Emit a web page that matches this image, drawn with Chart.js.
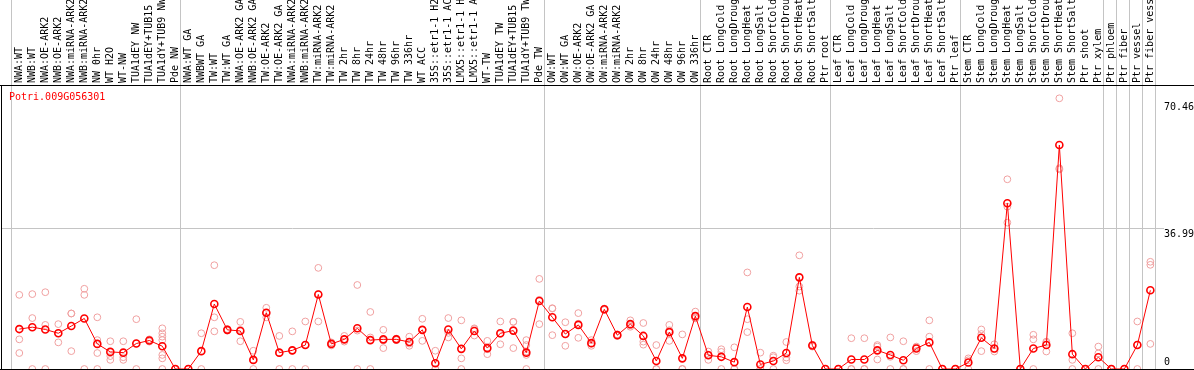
<!DOCTYPE html>
<html><head><meta charset="utf-8">
<script src="https://cdn.jsdelivr.net/npm/chart.js@4/dist/chart.umd.min.js"></script>
<style>html,body{margin:0;padding:0;background:#fff;overflow:hidden}canvas{display:block}</style>
</head><body>
<canvas id="c" width="1194" height="370"></canvas>
<script>
const geneId = 'Potri.009G056301';
const categories = [
  'NWA:WT','NWB:WT','NWA:OE-ARK2','NWB:OE-ARK2','NWA:miRNA-ARK2','NWB:miRNA-ARK2','NW 0hr','WT H2O','WT-NW','TUA1dEY NW',
  'TUA1dEY+TUB15 NW','TUA1dY+TUB9 NW','Pde NW','NWA:WT GA','NWBWT GA','TW:WT','TW:WT GA','NWA:OE-ARK2 GA','NWB:OE-ARK2 GA','TW:OE-ARK2',
  'TW:OE-ARK2 GA','NWA:miRNA-ARK2 GA','NWB:miRNA-ARK2 GA','TW:miRNA-ARK2','TW:miRNA-ARK2 GA','TW 2hr','TW 8hr','TW 24hr','TW 48hr','TW 96hr',
  'TW 336hr','WT ACC','35S::etr1-1 H2O','35S::etr1-1 ACC','LMX5::etr1-1 H2O','LMX5::etr1-1 ACC','WT-TW','TUA1dEY TW','TUA1dEY+TUB15 TW','TUA1dY+TUB9 TW',
  'Pde TW','OW:WT','OW:WT GA','OW:OE-ARK2','OW:OE-ARK2 GA','OW:miRNA-ARK2','OW:miRNA-ARK2 GA','OW 2hr','OW 8hr','OW 24hr',
  'OW 48hr','OW 96hr','OW 336hr','Root CTR','Root LongCold','Root LongDrought','Root LongHeat','Root LongSalt','Root ShortCold','Root ShortDrought',
  'Root ShortHeat','Root ShortSalt','Ptr root','Leaf CTR','Leaf LongCold','Leaf LongDrought','Leaf LongHeat','Leaf LongSalt','Leaf ShortCold','Leaf ShortDrought',
  'Leaf ShortHeat','Leaf ShortSalt','Ptr leaf','Stem CTR','Stem LongCold','Stem LongDrought','Stem LongHeat','Stem LongSalt','Stem ShortCold','Stem ShortDrought',
  'Stem ShortHeat','Stem ShortSalt','Ptr shoot','Ptr xylem','Ptr phloem','Ptr fiber','Ptr vessel','Ptr fiber vessel'
];
const means = [
  10.5, 11.0, 10.4, 9.4, 11.3, 13.3, 6.6, 4.5, 4.3, 6.7,
  7.5, 6.0, 0, 0, 4.7, 17.1, 10.3, 10.0, 2.4, 14.8,
  4.3, 4.9, 6.3, 19.6, 6.6, 7.8, 10.7, 7.6, 7.8, 7.8,
  7.1, 10.3, 1.5, 10.4, 5.3, 10.0, 5.5, 9.4, 10.1, 4.3,
  17.9, 13.6, 9.2, 11.6, 6.8, 15.7, 8.9, 11.8, 8.7, 2.1,
  9.7, 2.8, 13.9, 3.6, 3.2, 1.8, 16.3, 1.2, 2.1, 4.2,
  24.1, 6.2, 0, 0, 2.5, 2.5, 4.9, 3.7, 2.3, 5.4,
  7.0, 0, 0, 1.7, 8.2, 5.4, 43.6, 0, 5.4, 6.3,
  58.9, 3.9, 0, 3.1, 0, 0, 6.3, 20.7
];
const replicates = [
  [19.5, 7.8, 4.2], [19.7, 13.4, 0], [20.2, 11.6, 0], [11.8, 7.0, 9.4], [14.6, 14.6, 4.7],
  [21.1, 19.5, 0], [13.6, 7.6, 4.2, 0], [7.3, 3.4, 2.4], [7.3, 3.1, 2.4], [13.1, 6.7, 0],
  [7.8, 7.5, 7.2], [10.7, 9.4, 8.5, 7.6, 3.7, 2.8, 0], [0, 0, 0], [0, 0, 0], [9.4, 4.7, 0],
  [27.3, 13.6, 9.9], [10.5, 10.3, 10.1], [12.4, 10.3, 7.3], [4.8, 2.4, 0], [16.1, 14.7, 13.6],
  [8.7, 4.2, 0], [9.9, 4.8, 0], [12.5, 6.4, 0], [26.6, 19.7, 12.5], [7.0, 6.6, 6.2],
  [8.7, 7.8, 7.2], [22.1, 10.1, 0], [15.0, 8.3, 0], [10.3, 7.5, 5.5], [8.0, 7.8, 7.6],
  [8.5, 6.7, 6.1], [13.2, 10.3, 7.4], [4.8, 0, 0], [13.4, 9.5, 8.3], [12.8, 2.8, 0],
  [10.7, 10.5, 8.8], [7.4, 5.2, 3.9], [12.5, 9.2, 6.5], [12.4, 12.4, 5.5], [7.6, 6.3, 4.6, 3.7, 0],
  [23.7, 18.2, 11.8], [16.0, 15.9, 8.9], [12.3, 9.2, 6.1], [14.7, 11.9, 8.2], [7.6, 6.7, 6.1],
  [15.9, 15.7, 15.5], [9.1, 8.9, 8.7], [12.8, 11.5, 11.1], [12.1, 7.2, 6.4], [6.3, 0, 0],
  [11.6, 10.2, 7.4], [9.1, 0, 0], [15.1, 13.4, 13.3], [4.6, 3.8, 2.4], [5.2, 4.5, 0],
  [5.7, 0, 0], [25.4, 13.1, 9.7], [4.3, 0, 0], [3.5, 3.1, 0], [7.1, 3.0, 2.3],
  [29.9, 21.7, 20.6], [6.4, 6.3, 5.9], [0, 0, 0], [0, 0, 0], [8.1, 0, 0],
  [8.1, 0, 0], [6.3, 5.9, 2.5], [8.3, 3.2, 0], [7.3, 0, 0], [5.9, 5.7, 4.7],
  [12.8, 8.5, 0], [0, 0, 0], [0, 0, 0], [2.8, 2.3, 0], [10.4, 9.2, 4.7],
  [6.5, 5.2, 4.6], [49.9, 42.7, 38.5], [0, 0, 0], [9.0, 7.8, 0], [7.2, 6.9, 4.6],
  [71.2, 52.8, 52.5], [9.4, 2.4, 0], [0, 0, 0], [5.9, 4.1, 0], [0, 0, 0],
  [0, 0, 0], [12.5, 6.4, 0], [28.2, 27.4, 6.6]
];
const yTickValues = [0, 36.99, 70.46];
const groupEnds = [-1, 12, 40, 52, 62, 72, 83, 84, 85, 86, 87];

const X_MIN = -1.408, X_MAX = 88.05, Y_MAX = 74.7;
const MONO = '"DejaVu Sans Mono", "Liberation Mono", monospace';

const meanPoints = means.map((v, i) => ({x: i, y: v}));
const repPoints = [];
replicates.forEach((arr, i) => arr.forEach(v => repPoints.push({x: i, y: v})));

const noPad = s => { s.paddingLeft = 0; s.paddingRight = 0; s.paddingTop = 0; s.paddingBottom = 0; };

const decor = {
  id: 'decor',
  afterDraw(chart) {
    const {ctx, chartArea, scales} = chart;
    const y = scales.y;
    ctx.save();
    ctx.strokeStyle = '#000';
    ctx.lineWidth = 1;
    ctx.beginPath();
    const t = Math.round(chartArea.top) + 0.5, b = Math.round(chartArea.bottom) + 0.5;
    ctx.moveTo(0, t); ctx.lineTo(chart.width, t);
    ctx.moveTo(0, b); ctx.lineTo(chart.width, b);
    ctx.stroke();
    ctx.font = '10px ' + MONO;
    ctx.fillStyle = '#000';
    ctx.textAlign = 'left';
    ctx.textBaseline = 'top';
    yTickValues.forEach(v => {
      let py = y.getPixelForValue(v) + 1;
      py = Math.min(py, chartArea.bottom - 12);
      ctx.fillText(String(v), chartArea.right, py);
    });
    ctx.fillStyle = '#ff0000';
    ctx.textBaseline = 'middle';
    ctx.fillText(geneId, chartArea.left + 8, chartArea.top + 12.5);
    ctx.restore();
  }
};

new Chart(document.getElementById('c'), {
  data: {
    datasets: [
      {
        type: 'line', label: 'mean', data: meanPoints,
        borderColor: '#ff0000', borderWidth: 1, tension: 0,
        pointRadius: 3.5, pointBorderWidth: 1.6, pointBorderColor: '#ff0000',
        pointBackgroundColor: 'rgba(0,0,0,0)', clip: 0, order: 0
      },
      {
        type: 'scatter', label: 'replicates', data: repPoints, showLine: false,
        pointRadius: 3.4, pointBorderWidth: 1, borderColor: '#f0a0a0', pointBorderColor: '#f0a0a0',
        backgroundColor: 'rgba(0,0,0,0)', pointBackgroundColor: 'rgba(0,0,0,0)', clip: 0, order: 1
      }
    ]
  },
  options: {
    responsive: false, animation: false, devicePixelRatio: 1,
    layout: {autoPadding: false, padding: {left: 1, right: 30, top: 0, bottom: 1}},
    plugins: {legend: {display: false}, tooltip: {enabled: false}},
    scales: {
      x: {
        type: 'linear', position: 'top', min: X_MIN, max: X_MAX, weight: 1,
        afterBuildTicks: s => { s.ticks = categories.map((_, i) => ({value: i})); },
        afterFit: s => { s.height = 85; noPad(s); },
        grid: {display: true, color: 'rgba(0,0,0,0)', drawTicks: false},
        border: {display: true, color: '#000', width: 1},
        ticks: {
          autoSkip: false, minRotation: 90, maxRotation: 90, padding: 2, color: '#000',
          labelOffset: 12,
          font: {family: MONO, size: 10},
          callback: v => categories[v] ?? ''
        }
      },
      xs: {
        type: 'linear', position: 'top', min: X_MIN, max: X_MAX, weight: 0,
        afterBuildTicks: s => { s.ticks = groupEnds.map(i => ({value: i + 0.385})); },
        afterFit: s => { s.height = 0; noPad(s); },
        grid: {color: '#c4c4c4', lineWidth: 1, drawTicks: true, tickLength: 85, drawOnChartArea: true},
        border: {display: false},
        ticks: {display: false}
      },
      xb: {
        type: 'linear', position: 'bottom', min: X_MIN, max: X_MAX,
        afterFit: s => { s.height = 0; noPad(s); },
        grid: {display: false, drawTicks: false},
        border: {display: true, color: '#000', width: 1},
        ticks: {display: false}
      },
      y: {
        type: 'linear', position: 'left', min: 0, max: Y_MAX,
        afterBuildTicks: s => { s.ticks = yTickValues.map(v => ({value: v})); },
        afterFit: s => { s.width = 0; noPad(s); },
        grid: {color: c => (c.index === 1 ? '#c4c4c4' : 'rgba(0,0,0,0)'), drawTicks: false},
        border: {display: true, color: '#000', width: 1},
        ticks: {display: false}
      }
    }
  },
  plugins: [decor]
});
</script>
</body></html>
